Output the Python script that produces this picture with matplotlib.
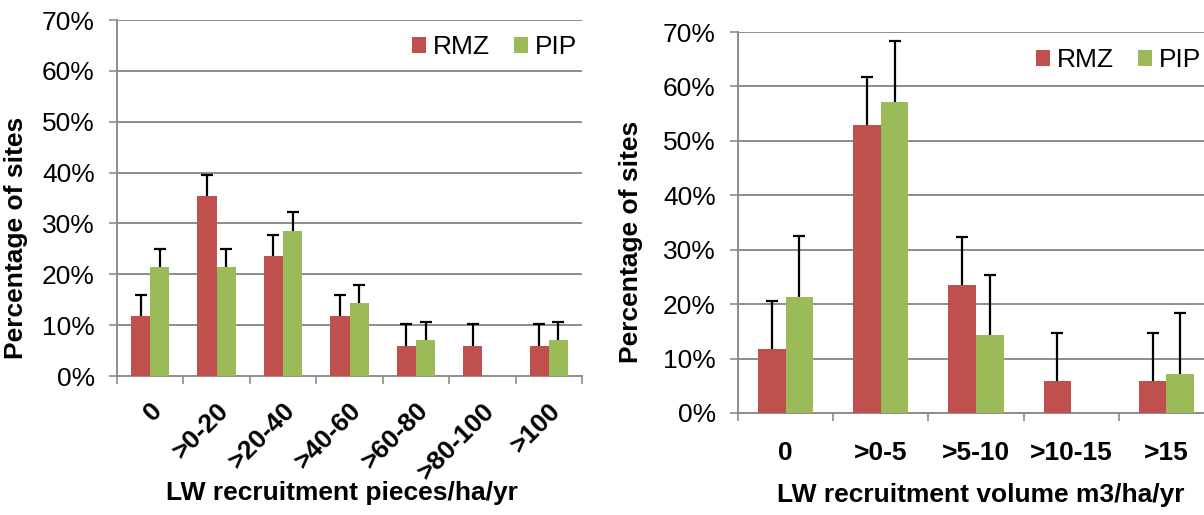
import numpy as np
import matplotlib
matplotlib.use("Agg")
from matplotlib import pyplot as plt
from matplotlib.ticker import FuncFormatter, FixedLocator

plt.rcParams['font.family'] = ['Liberation Sans', 'DejaVu Sans']

# data (percent of sites, upper error bar length)
pieces_cats = ['0', '>0-20', '>20-40', '>40-60', '>60-80', '>80-100', '>100']
pieces_rmz = [11.8, 35.3, 23.5, 11.8, 5.9, 5.9, 5.9]
pieces_rmz_err = [4.2, 4.2, 4.2, 4.2, 4.4, 4.4, 4.4]
pieces_pip = [21.4, 21.4, 28.6, 14.3, 7.1, 0.0, 7.1]
pieces_pip_err = [3.6, 3.6, 3.6, 3.6, 3.6, 0.0, 3.6]

volume_cats = ['0', '>0-5', '>5-10', '>10-15', '>15']
volume_rmz = [11.8, 52.9, 23.5, 5.9, 5.9]
volume_rmz_err = [8.8, 8.9, 8.9, 8.8, 8.8]
volume_pip = [21.4, 57.1, 14.3, 0.0, 7.1]
volume_pip_err = [11.1, 11.2, 11.1, 0.0, 11.2]

RMZ_COL = '#C0504D'
PIP_COL = '#9BBB59'
GRID = '#8C8C8C'
FS = 19


def draw(ax, cats, rmz, rmz_err, pip, pip_err, xlabel, rotate):
    x = np.arange(len(cats))
    w = 0.29
    ax.bar(x - w / 2, rmz, w, color=RMZ_COL, label='RMZ', zorder=3)
    ax.bar(x + w / 2, pip, w, color=PIP_COL, label='PIP', zorder=3)
    for xs, vals, errs in ((x - w / 2, rmz, rmz_err), (x + w / 2, pip, pip_err)):
        for xi, v, e in zip(xs, vals, errs):
            if v > 0:
                eb = ax.errorbar(xi, v, yerr=[[0], [e]], fmt='none', ecolor='black',
                                 elinewidth=1.6, capsize=4.3, capthick=1.6, zorder=4)
                eb[1][0].set_visible(False)  # no cap at the bar top

    ax.set_xlim(-0.5, len(cats) - 0.5)
    ax.set_ylim(0, 70)
    ax.set_yticks(np.arange(0, 71, 10))
    ax.yaxis.set_major_formatter(FuncFormatter(lambda v, p: '%d%%' % v))
    ax.yaxis.grid(True, color=GRID, linewidth=1.4, zorder=0)
    ax.set_axisbelow(True)

    ax.set_xticks(x)
    ax.xaxis.set_minor_locator(FixedLocator(np.arange(len(cats) + 1) - 0.5))
    ax.tick_params(axis='x', which='major', length=0)
    ax.tick_params(axis='x', which='minor', length=6, width=1.2, color=GRID)
    ax.tick_params(axis='y', length=6, width=1.2, color=GRID, labelsize=FS, pad=10)

    if rotate:
        ax.set_xticklabels(cats, rotation=45, ha='right', rotation_mode='anchor',
                           fontsize=FS, fontweight='bold')
        ax.tick_params(axis='x', which='major', pad=16)
    else:
        ax.set_xticklabels(cats, fontsize=FS, fontweight='bold')
        ax.tick_params(axis='x', which='major', pad=20)

    for s in ('top', 'right'):
        ax.spines[s].set_visible(False)
    for s in ('left', 'bottom'):
        ax.spines[s].set_color(GRID)
        ax.spines[s].set_linewidth(1.4)

    ax.set_ylabel('Percentage of sites', fontsize=FS, fontweight='bold')
    ax.set_xlabel(xlabel, fontsize=FS, fontweight='bold')


fig = plt.figure(figsize=(12.04, 5.15), dpi=100)

ax1 = fig.add_axes([117 / 1204, 1 - 376 / 515, 465 / 1204, 356 / 515])
draw(ax1, pieces_cats, pieces_rmz, pieces_rmz_err, pieces_pip, pieces_pip_err,
     'LW recruitment pieces/ha/yr', True)
ax1.xaxis.set_label_coords(0.483, -0.295)
ax1.yaxis.set_label_coords(-0.191, 0.388)

ax2 = fig.add_axes([738 / 1204, 1 - 413 / 515, 476 / 1204, 381 / 515])
draw(ax2, volume_cats, volume_rmz, volume_rmz_err, volume_pip, volume_pip_err,
     'LW recruitment volume m3/ha/yr', False)
ax2.xaxis.set_label_coords(0.51, -0.185)
ax2.yaxis.set_label_coords(-0.20, 0.449)

for ax, anchor in ((ax1, (577 / 1204, 1 - 47 / 515)), (ax2, (1201 / 1204, 1 - 60 / 515))):
    ax.legend(loc='center right', bbox_to_anchor=anchor, bbox_transform=fig.transFigure,
              frameon=False, ncol=2, fontsize=FS, handlelength=0.55, handleheight=0.55,
              handletextpad=0.25, columnspacing=0.9, borderpad=0, borderaxespad=0)

fig.savefig('out.png', dpi=100)
